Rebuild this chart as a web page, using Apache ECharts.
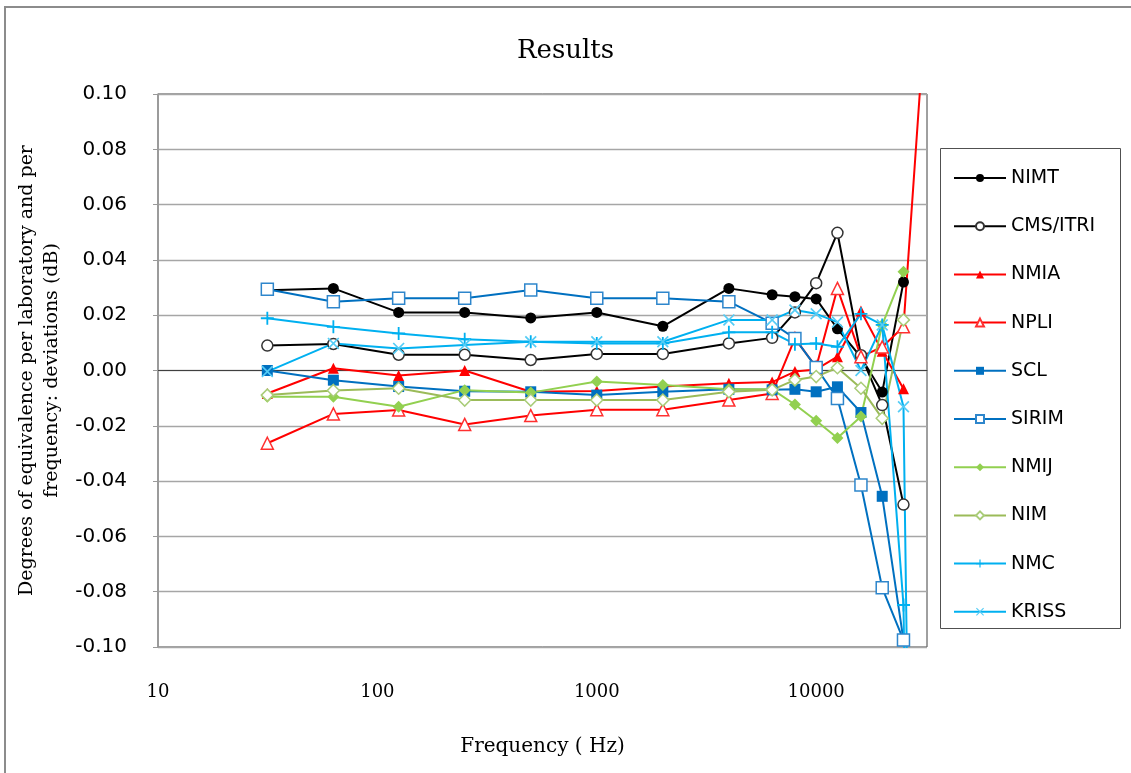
<!DOCTYPE html>
<html>
<head>
<meta charset="utf-8">
<script src="https://cdn.jsdelivr.net/npm/echarts@6/dist/echarts.min.js"></script>
<style>
html,body{margin:0;padding:0;background:#fff;}
#chart{width:1131px;height:773px;}
</style>
</head>
<body>
<div id="chart"></div>
<script>
// Frequencies (Hz)
const freqs = [31.5, 63, 125, 250, 500, 1000, 2000, 4000, 6300, 8000, 10000, 12500, 16000, 20000, 25000, 31500];
// Degrees of equivalence (dB)
const NIMT  = [0.029, 0.0297, 0.021, 0.021, 0.019, 0.021, 0.016, 0.0297, 0.0274, 0.0267, 0.0259, 0.0151, 0.0048, -0.0078, 0.032, null];
const CMS   = [0.009, 0.0096, 0.0057, 0.0057, 0.0038, 0.006, 0.006, 0.0098, 0.0118, 0.021, 0.0316, 0.0498, 0.0055, -0.0125, -0.0485, null];
const NMIA  = [-0.0083, 0.0008, -0.0018, 0.0, -0.0077, -0.0074, -0.0058, -0.0046, -0.0042, -0.0004, 0.0004, 0.005, 0.0215, 0.007, -0.0066, null];
const NPLI  = [-0.0263, -0.0157, -0.0143, -0.0195, -0.0163, -0.0142, -0.0142, -0.0107, -0.0083, 0.0116, 0.0012, 0.0297, 0.005, 0.0085, 0.0158, 0.13];
const SCL   = [0.0, -0.0035, -0.0058, -0.0075, -0.0077, -0.0089, -0.0077, -0.0068, -0.007, -0.0068, -0.0077, -0.0059, -0.0152, -0.0455, -0.0975, null];
const SIRIM = [0.0294, 0.0249, 0.0261, 0.0261, 0.0291, 0.0261, 0.0261, 0.0249, 0.0171, 0.0116, 0.0011, -0.0101, -0.0414, -0.0786, -0.0975, null];
const NMIJ  = [-0.0095, -0.0095, -0.0131, -0.0071, -0.008, -0.004, -0.0052, -0.0068, -0.0068, -0.0123, -0.0182, -0.0244, -0.0166, 0.0165, 0.0357, null];
const NIM   = [-0.0089, -0.0072, -0.0064, -0.0107, -0.0107, -0.0107, -0.0107, -0.0077, -0.007, -0.0034, -0.0022, 0.001, -0.0064, -0.0173, 0.0183, null];
const NMC   = [0.0189, 0.0158, 0.0134, 0.0113, 0.0104, 0.0098, 0.0098, 0.0138, 0.0138, 0.0095, 0.0098, 0.0086, 0.0205, 0.0165, -0.0848, -0.6];
const KRISS = [-0.0004, 0.0098, 0.008, 0.0092, 0.0104, 0.0104, 0.0104, 0.0183, 0.0183, 0.0219, 0.0205, 0.0175, 0.0, 0.0165, -0.0131, -0.6];

const yTicks = [-0.10, -0.08, -0.06, -0.04, -0.02, 0.00, 0.02, 0.04, 0.06, 0.08, 0.10];
const xTickLabels = ['10', '100', '1000', '10000'];

const PLUS = 'path://M4.3,0 H5.7 V10 H4.3 Z M0,4.3 H10 V5.7 H0 Z';
const CROSS = 'path://M0,1 L1,0 L10,9 L9,10 Z M9,0 L10,1 L1,10 L0,9 Z';

function pairs(vals){ return freqs.map((f,i)=>[f, vals[i]]); }

const defs = [
  {name:'NIMT', data:NIMT, line:'#000000', sym:'circle', size:11, fill:'#000000', border:'#000000'},
  {name:'CMS/ITRI', data:CMS, line:'#000000', sym:'circle', size:11, fill:'#ffffff', border:'#333333'},
  {name:'NMIA', data:NMIA, line:'#FF0000', sym:'triangle', size:11, fill:'#FF0000', border:'#FF0000'},
  {name:'NPLI', data:NPLI, line:'#FF0000', sym:'triangle', size:12, fill:'#ffffff', border:'#FF3030'},
  {name:'SCL', data:SCL, line:'#0070C0', sym:'rect', size:11, fill:'#0070C0', border:'#0070C0'},
  {name:'SIRIM', data:SIRIM, line:'#0070C0', sym:'rect', size:12, fill:'#ffffff', border:'#2E86CC'},
  {name:'NMIJ', data:NMIJ, line:'#92D050', sym:'diamond', size:12, fill:'#92D050', border:'#92D050'},
  {name:'NIM', data:NIM, line:'#9BBB59', sym:'diamond', size:12, fill:'#ffffff', border:'#A9CC78'},
  {name:'NMC', data:NMC, line:'#00B0F0', sym:PLUS, size:13, fill:'#00B0F0', border:'#00B0F0'},
  {name:'KRISS', data:KRISS, line:'#00B0F0', sym:CROSS, size:12, fill:'#55CCF5', border:'#55CCF5'}
];

const series = defs.map(d => ({
  name: d.name,
  type: 'line',
  data: pairs(d.data),
  symbol: d.sym,
  symbolSize: d.size,
  showAllSymbol: true,
  clip: true,
  connectNulls: false,
  color: d.line,
  lineStyle: {color: d.line, width: 2},
  itemStyle: {color: d.fill, borderColor: d.border, borderWidth: (d.fill === '#ffffff' ? 1.5 : 0)},
  emphasis: {disabled: true},
  animation: false
}));

const chart = echarts.init(document.getElementById('chart'), null, {renderer:'canvas'});
chart.setOption({
  backgroundColor: '#ffffff',
  animation: false,
  title: {
    text: 'Results',
    left: 'center',
    top: 33,
    textStyle: {fontFamily: 'DejaVu Serif', fontWeight: 'normal', fontSize: 26, color: '#000'}
  },
  grid: {left: 158, right: 204, top: 94, bottom: 126, show: true, borderColor: '#404040', borderWidth: 1, backgroundColor: 'transparent'},
  legend: {
    orient: 'vertical',
    left: 948,
    top: 163,
    itemWidth: 52,
    itemHeight: 10,
    itemGap: 28.2,
    textStyle: {fontFamily: 'DejaVu Sans', fontSize: 19, color: '#000', lineHeight: 20},
    data: defs.map(d => d.name)
  },
  xAxis: {
    type: 'log',
    logBase: 10,
    min: 10,
    max: 32000,
    name: 'Frequency ( Hz)',
    nameLocation: 'middle',
    nameGap: 90,
    nameTextStyle: {fontFamily: 'DejaVu Serif', fontSize: 20, color: '#000'},
    axisLine: {show: true, lineStyle: {color: '#404040', width: 1}},
    axisTick: {show: false},
    splitLine: {show: false},
    axisLabel: {
      margin: 36,
      fontFamily: 'DejaVu Serif',
      fontSize: 18,
      color: '#000',
      showMaxLabel: false,
      formatter: function(v){
        const s = String(Math.round(v));
        return xTickLabels.indexOf(s) >= 0 ? s : '';
      }
    }
  },
  yAxis: {
    type: 'value',
    min: yTicks[0],
    max: yTicks[yTicks.length-1],
    interval: 0.02,
    name: 'Degrees of equivalence per laboratory and per\nfrequency: deviations (dB)',
    nameLocation: 'middle',
    nameGap: 92,
    nameRotate: 90,
    nameTextStyle: {fontFamily: 'DejaVu Serif', fontSize: 19, lineHeight: 25, color: '#000', align: 'center'},
    axisLine: {show: true, lineStyle: {color: '#9A9A9A', width: 1.5}},
    axisTick: {show: true, length: 5, lineStyle: {color: '#9A9A9A'}},
    splitLine: {show: true, lineStyle: {color: '#A6A6A6', width: 1.3}},
    axisLabel: {
      margin: 31,
      fontFamily: 'DejaVu Sans',
      fontSize: 20,
      color: '#000',
      formatter: function(v){ return v.toFixed(2); }
    }
  },
  graphic: [
    {type: 'rect', shape: {x: 5, y: 7, width: 1140, height: 800}, style: {fill: 'none', stroke: '#8C8C8C', lineWidth: 2}, silent: true, z: -10},
    {type: 'rect', shape: {x: 940.5, y: 148.5, width: 180, height: 480}, style: {fill: 'none', stroke: '#505050', lineWidth: 1}, silent: true, z: -5}
  ],
  series: series
});
</script>
</body>
</html>
